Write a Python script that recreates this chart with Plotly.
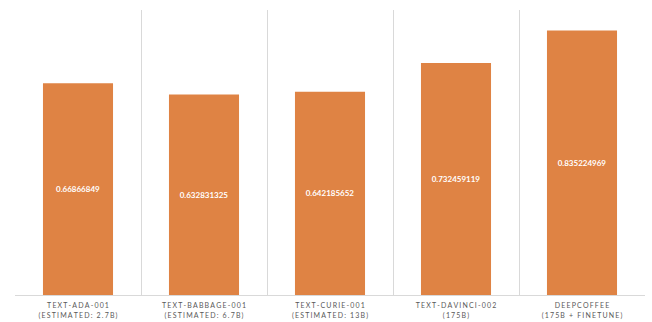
import plotly.graph_objects as go

categories = ["text-ada-001", "text-babbage-001", "text-curie-001", "text-davinci-002", "deepcoffee"]
line1 = ["TEXT-ADA-001", "TEXT-BABBAGE-001", "TEXT-CURIE-001", "TEXT-DAVINCI-002", "DEEPCOFFEE"]
line2 = ["(ESTIMATED: 2.7B)", "(ESTIMATED: 6.7B)", "(ESTIMATED: 13B)", "(175B)", "(175B + FINETUNE)"]
values = [0.66866849, 0.632831325, 0.642185652, 0.732459119, 0.835224969]
value_labels = ["0.66866849", "0.632831325", "0.642185652", "0.732459119", "0.835224969"]

HS = "\u2006"
def spaced(s):
    return HS.join(list(s))

tick_text = [spaced(a) + "<br>" + spaced(b) for a, b in zip(line1, line2)]

fig = go.Figure(go.Bar(
    x=categories, y=values, text=value_labels,
    textposition="inside", insidetextanchor="middle",
    textfont=dict(color="white", size=8, family="Lato", weight="bold"),
    marker=dict(color="#DF8344", line=dict(width=0)),
    width=0.556,
))
fig.update_layout(
    width=652, height=322,
    margin=dict(l=15, r=7, t=10, b=27),
    plot_bgcolor="white", paper_bgcolor="white",
    showlegend=False,
    uniformtext=dict(minsize=8, mode="show"),
)
fig.update_xaxes(
    type="category", tickmode="array", tickvals=categories, ticktext=tick_text,
    tickson="boundaries", showgrid=True, gridcolor="#D9D9D9", gridwidth=1,
    showline=True, linecolor="#D9D9D9", linewidth=1, ticks="",
    ticklabelstandoff=4,
    tickfont=dict(family="Lato", size=7, color="#595959"),
    automargin=False,
)
fig.update_yaxes(range=[0, 0.9], showgrid=False, showticklabels=False, zeroline=False, visible=False)
fig.write_html("out.html")
